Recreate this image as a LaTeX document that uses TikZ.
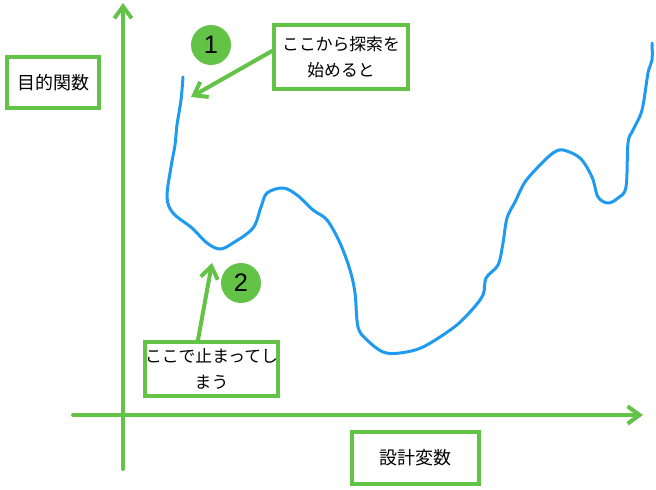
\documentclass[tikz,border=0pt]{standalone}
\usepackage{fontspec}
\setmainfont{Noto Sans CJK JP}
\newfontfamily\numfont{Liberation Sans}
\usetikzlibrary{arrows.meta}
\definecolor{lgreen}{RGB}{98,195,71}
\definecolor{curveblue}{RGB}{30,155,240}

\begin{document}
\begin{tikzpicture}[x=0.75pt,y=-0.75pt,
    axis/.style={draw=lgreen,line width=3pt,line cap=round,-{Straight Barb[length=9pt,width=13pt]}},
    label/.style={draw=lgreen,line width=3pt,fill=white,inner sep=0pt,align=center,font=\fontsize{12.6}{19}\selectfont},
    marker/.style={circle,fill=lgreen,minimum size=30pt,inner sep=0pt,font=\numfont\fontsize{19}{19}\selectfont}]
    \useasboundingbox (0,0) rectangle (656,489);
    % axes
    \coordinate (ybot) at (123,469);
    \coordinate (ytop) at (123,3);
    \coordinate (xleft) at (73,415);
    \coordinate (xright) at (643,415);
    \draw[axis] (ybot) -- (ytop);
    \draw[axis] (xleft) -- (xright);
    % objective curve
    \draw[curveblue,line width=2.25pt,line cap=round] plot[smooth,tension=0.55] coordinates {
        (183,77) (181,100) (177,125) (175,145) (171,167) (167,197) (173,213)
        (192,228) (207,243) (220,249) (233,243) (253,228) (261,207) (267,193)
        (283,188) (297,195) (313,210) (327,220) (340,243) (350,270) (355,293)
        (358,327) (367,340) (383,352) (400,353) (423,347) (453,328) (470,312)
        (483,295) (486,278) (498,265) (503,243) (507,218) (515,202) (525,182)
        (540,165) (553,153) (563,150) (580,158) (592,177) (598,197) (608,203)
        (618,198) (626,187) (628,143) (633,130) (642,110) (648,73) (652,60) (652,43)};
    % labels
    \node[label,minimum width=69pt,minimum height=38.25pt,font=\fontsize{13.5}{16}\selectfont] (objective) at (53,82.5) {目的関数};
    \node[label,minimum width=95.25pt,minimum height=39pt,font=\fontsize{13.5}{16}\selectfont] (design) at (415.5,458) {設計変数};
    \node[label,minimum width=100.5pt,minimum height=48pt] (startbox) at (341,57) {ここから探索を\\始めると};
    \node[label,minimum width=99.75pt,minimum height=40.5pt] (stopbox) at (211.5,369) {ここで止まってし\\まう};
    \node[marker] (one) at (211,45) {1};
    \node[marker] (two) at (241,283) {2};
    % pointers
    \coordinate (start) at (191,97);
    \coordinate (stuck) at (212,263);
    \draw[axis] (startbox.175) -- (start);
    \draw[axis] (stopbox.115) -- (stuck);
\end{tikzpicture}
\end{document}
